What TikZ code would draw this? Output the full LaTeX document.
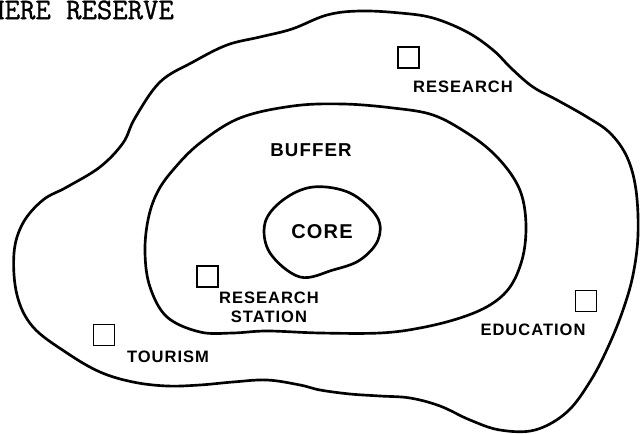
\documentclass[tikz,border=0pt]{standalone}
\usepackage{fontspec}
\setmainfont{Liberation Sans}
\newfontfamily\zonefont{Liberation Sans}[LetterSpace=6]
\newfontfamily\typefont{Latin Modern Mono}[FakeBold=1]
\usepackage{tikz}

\tikzset{
  zone/.style={line width=2pt, line join=round},
  site/.style={draw, line width=1.1pt, minimum size=15.75pt, inner sep=0pt},
  lbl/.style={font=\zonefont\bfseries\fontsize{12.4}{14.2}\selectfont, inner sep=0.75pt, align=center},
}

\begin{document}
\begin{tikzpicture}[x=0.75pt,y=0.75pt,yscale=-1,xscale=1]
\clip (0,0) rectangle (640,434);

%Shape: Outer zone
\draw [zone] plot [smooth cycle, tension=0.6] coordinates {(160,82) (193,62) (227,45) (260,37) (292,29) (327,15) (360,11) (400,13) (433,18) (467,32) (493,50) (512,69) (533,87) (557,100) (587,117) (610,133) (627,157) (636,190) (638,235) (633,275) (623,310) (609,345) (591,380) (567,412) (535,430) (500,430) (470,420) (440,406) (410,398) (380,396) (350,394) (320,390) (300,385) (267,380) (233,382) (200,385) (167,386) (133,382) (100,372) (67,353) (33,327) (17,295) (14,253) (23,223) (43,200) (67,187) (100,167) (123,143) (135,118)};
%Shape: Buffer zone
\draw [zone] plot [smooth cycle, tension=0.6] coordinates {(240,118) (293,106) (343,104) (393,108) (433,115) (467,133) (493,153) (513,177) (523,200) (526,230) (522,260) (510,287) (490,305) (460,318) (420,328) (380,333) (320,333) (267,331) (233,333) (200,332) (167,317) (150,287) (145,253) (148,220) (157,193) (173,170) (200,143)};
%Shape: Core zone
\draw [zone] plot [smooth cycle, tension=0.6] coordinates {(313,187) (283,200) (265,223) (270,253) (300,277) (333,270) (360,260) (378,240) (377,217) (350,193)};

%Site boxes
\node [site] (sqres) at (408.5,57.5) {};
\node [site] (sqsta) at (207.5,276.5) {};
\node [site] (sqedu) at (586,301) {};
\node [site] (sqtou) at (104,335) {};

% Text Node
\node [anchor=west, inner sep=0pt, font=\typefont\fontsize{22.4}{24}\selectfont] (title) at (-11,10) {HERE RESERVE};
% Text Node
\node [lbl] (res) at (463,87) {RESEARCH};
% Text Node
\node [lbl, font=\zonefont\bfseries\fontsize{14}{16}\selectfont] (buf) at (311,150) {BUFFER};
% Text Node
\node [lbl, font=\zonefont\bfseries\fontsize{15}{17}\selectfont] (core) at (322,232) {CORE};
% Text Node
\node [lbl] (sta) at (269,307) {RESEARCH\\STATION};
% Text Node
\node [lbl] (edu) at (533,330) {EDUCATION};
% Text Node
\node [lbl] (tou) at (168,357) {TOURISM};

\end{tikzpicture}
\end{document}
